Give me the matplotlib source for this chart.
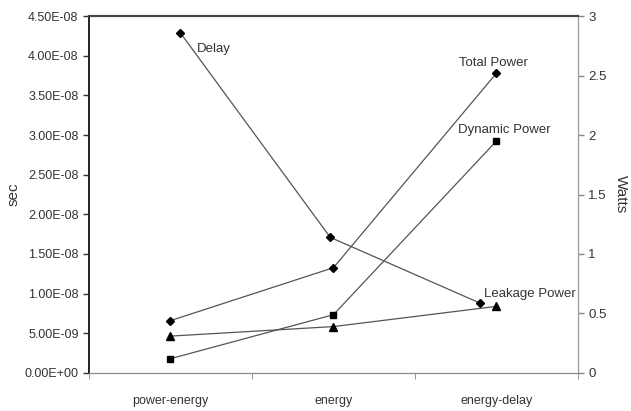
import matplotlib.pyplot as plt

categories = ["power-energy", "energy", "energy-delay"]
delay_x = [0.06, 0.98, 1.90]
delay = [4.29e-8, 1.71e-8, 0.88e-8]
total_power = [0.44, 0.885, 2.52]
dynamic_power = [0.12, 0.49, 1.95]
leakage_power = [0.31, 0.39, 0.56]
sec_ticks = [0, 5e-9, 1e-8, 1.5e-8, 2e-8, 2.5e-8, 3e-8, 3.5e-8, 4e-8, 4.5e-8]
watt_ticks = [0, 0.5, 1, 1.5, 2, 2.5, 3]

plt.rcParams['font.family'] = ['Liberation Sans', 'DejaVu Sans']

fig = plt.figure(figsize=(6.31, 4.11), dpi=100)
ax = fig.add_axes([0.141, 0.0925, 0.775, 0.8685])
ax2 = ax.twinx()

x = list(range(len(categories)))
line_kw = dict(color="#555555", lw=0.9, mfc="black", mec="black")

ax.plot(delay_x, delay, marker="D", ms=4, **line_kw)
ax2.plot(x, total_power, marker="D", ms=4, **line_kw)
ax2.plot(x, dynamic_power, marker="s", ms=5, **line_kw)
ax2.plot(x, leakage_power, marker="^", ms=5.5, **line_kw)

ax.set_xlim(-0.5, 2.5)
ax.set_ylim(0, 4.5e-8)
ax2.set_ylim(0, 3)

ax.set_yticks(sec_ticks)
ax.set_yticklabels(["%.2E" % v for v in sec_ticks], fontsize=9, color="#333333")
ax2.set_yticks(watt_ticks)
ax2.set_yticklabels([("%g" % v) for v in watt_ticks], fontsize=9.5, color="#333333")

ax.set_xticks(x)
ax.set_xticklabels(categories, fontsize=9, color="#333333")
ax.set_xticks([-0.5, 0.5, 1.5, 2.5], minor=True)
ax.tick_params(axis="x", which="major", length=0, pad=16)
ax.tick_params(axis="x", which="minor", length=4, color="#888888")
ax.tick_params(axis="y", length=4, width=1, color="#333333")
ax2.tick_params(axis="y", length=4, width=1, color="#888888")

ax.set_ylabel("sec", fontsize=11, color="#333333", labelpad=3)
ax2.set_ylabel("Watts", fontsize=11, color="#333333", rotation=-90, labelpad=15)

for a in (ax, ax2):
    a.spines["top"].set_color("#444444")
    a.spines["top"].set_linewidth(1.5)
    a.spines["left"].set_color("#222222")
    a.spines["left"].set_linewidth(1.2)
    a.spines["right"].set_color("#999999")
    a.spines["bottom"].set_color("#888888")

ax.annotate("Delay", (delay_x[0], delay[0]), xytext=(12, -14), textcoords="offset points",
            fontsize=9.5, color="#333333")
ax2.annotate("Total Power", (x[2], total_power[2]), xytext=(-2, 5), textcoords="offset points",
             fontsize=9.5, color="#333333", ha="center")
ax2.annotate("Dynamic Power", (x[2], dynamic_power[2]), xytext=(-28, 6), textcoords="offset points",
             fontsize=9.5, color="#333333")
ax2.annotate("Leakage Power", (x[2], leakage_power[2]), xytext=(-9, 7), textcoords="offset points",
             fontsize=9.5, color="#333333")

fig.savefig("out.png", dpi=100)
